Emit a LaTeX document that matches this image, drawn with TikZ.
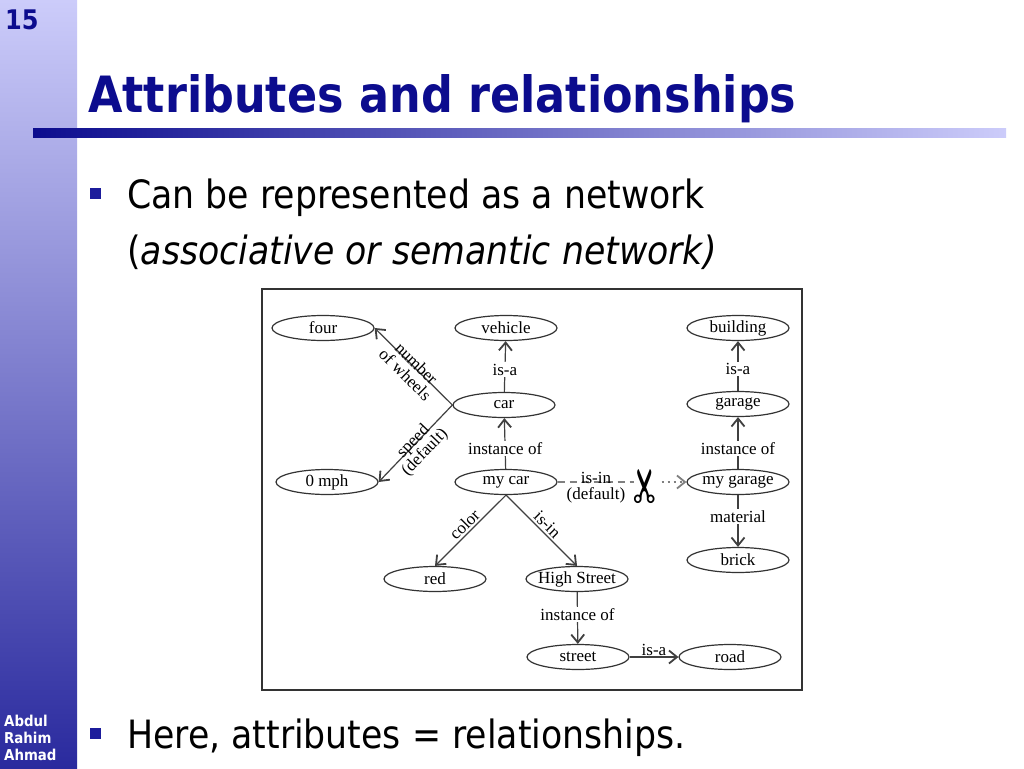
\documentclass[tikz,border=0pt]{standalone}
\usepackage{fontspec}
\setmainfont{Liberation Serif}
\newfontfamily\slidefont[FakeStretch=0.89]{DejaVu Sans}
\newfontfamily\symbfont{DejaVu Sans}
\usetikzlibrary{arrows.meta, shapes.geometric}
\definecolor{slideblue}{HTML}{0C0C8E}
\definecolor{lavender}{HTML}{CCCCFA}
\definecolor{deepblue}{HTML}{2A2A9E}
\definecolor{bulletblue}{HTML}{1C1C9C}

\begin{document}
\begin{tikzpicture}[x=1pt, y=-1pt,
	concept/.style={ellipse, draw=black!80, line width=1.2pt, minimum width=102pt, minimum height=25pt,
		inner xsep=-3pt, inner ysep=0pt, font=\fontsize{17}{17}\selectfont},
	link/.style={draw=black!75, line width=1.2pt, -{Straight Barb[length=8pt,width=13pt,line width=1.8pt]}},
	tag/.style={fill=white, inner sep=1.5pt, font=\fontsize{17}{17}\selectfont},
	slanttag/.style={sloped, align=center, inner sep=0pt, font=\fontsize{17}{16}\selectfont}]
	\def\bw{77};
	\def\sz{39};
	
	\useasboundingbox (0,0) rectangle (1024,768);
	\fill[white] (0,0) rectangle (1024,768);
	
	\shade[top color=lavender, bottom color=deepblue] (0,0) rectangle (\bw,768);
	\shade[left color=slideblue, right color=lavender] (33,128) rectangle (1006,137);
	
	\node[anchor=base west, inner sep=0pt, text=slideblue, font=\slidefont\bfseries\fontsize{27}{27}\selectfont] (page) at (5,30) {15};
	\node[anchor=south west, align=left, inner sep=0pt, text=white, font=\slidefont\bfseries\fontsize{15}{17}\selectfont] (author) at (4,761) {Abdul\\Rahim\\Ahmad};
	\node[anchor=base west, inner sep=0pt, text=slideblue, font=\slidefont\bfseries\fontsize{50}{50}\selectfont] (title) at (88,112) {Attributes and relationships};
	
	\fill[bulletblue] (90,188) rectangle (101,199);
	\fill[bulletblue] (90,728) rectangle (101,739);
	\node[anchor=base west, inner sep=0pt, font=\slidefont\fontsize{\sz}{\sz}\selectfont] (line1) at (127,208) {Can be represented as a network};
	\node[anchor=base west, inner sep=0pt, font=\slidefont\fontsize{\sz}{\sz}\selectfont] (line2) at (127,264) {(\textit{associative or semantic network)}};
	\node[anchor=base west, inner sep=0pt, font=\slidefont\fontsize{\sz}{\sz}\selectfont] (line3) at (127,748) {Here, attributes = relationships.};
	
	\draw[draw=black!80, line width=1.6pt] (262,289) rectangle (802,690);
	
	\node[concept] (four) at (323,328) {four};
	\node[concept] (vehicle) at (506,328) {vehicle};
	\node[concept] (building) at (738,328) {building};
	\node[concept] (car) at (504,405) {car};
	\node[concept] (garage) at (738,404) {garage};
	\node[concept] (zeromph) at (327,482) {0 mph};
	\node[concept] (mycar) at (506,482) {my car};
	\node[concept] (mygarage) at (738,482) {my garage};
	\node[concept] (brick) at (738,560) {brick};
	\node[concept] (red) at (435,579) {red};
	\node[concept] (highst) at (577,579) {High Street};
	\node[concept] (street) at (578,657) {street};
	\node[concept] (road) at (730,657) {road};
	\node[inner sep=0pt, font=\symbfont\fontsize{46}{46}\selectfont] (cut) at (648,486) {\rotatebox{90}{✂}};
	
	\draw[link] (car) -- node[tag, pos=0.44] {is-a} (vehicle);
	\draw[link] (garage) -- node[tag, pos=0.44] {is-a} (building);
	\draw[link] (mycar) -- node[tag, pos=0.4] {instance of} (car);
	\draw[link] (mygarage) -- node[tag, pos=0.4] {instance of} (garage);
	\draw[link] (mygarage) -- node[tag, pos=0.42] {material} (brick);
	\draw[link] (highst) -- node[tag, pos=0.44] {instance of} (street);
	\draw[link] (street) -- node[above, inner sep=1pt, font=\fontsize{17}{17}\selectfont] {is-a} (road);
	\draw[link] (car.west) -- node[slanttag, below=-11pt] {number\\of wheels} (four.east);
	\draw[link] (car.west) -- node[slanttag, below=-11pt] {speed\\(default)} (zeromph.east);
	\draw[link] (mycar.south) -- node[slanttag, above=2pt] {color} (red.north);
	\draw[link] (mycar.south) -- node[slanttag, above=2pt] {is-in} (highst.north);
	
	\draw[draw=black!50, line width=1.1pt, dash pattern=on 7pt off 5pt] (mycar.east) -- node[slanttag, below=-10pt] {is-in\\(default)} (mycar.east -| cut.west);
	\draw[link, draw=black!50, dash pattern=on 2pt off 4pt] (mycar.east -| cut.east) -- (mygarage.west);
\end{tikzpicture}
\end{document}
